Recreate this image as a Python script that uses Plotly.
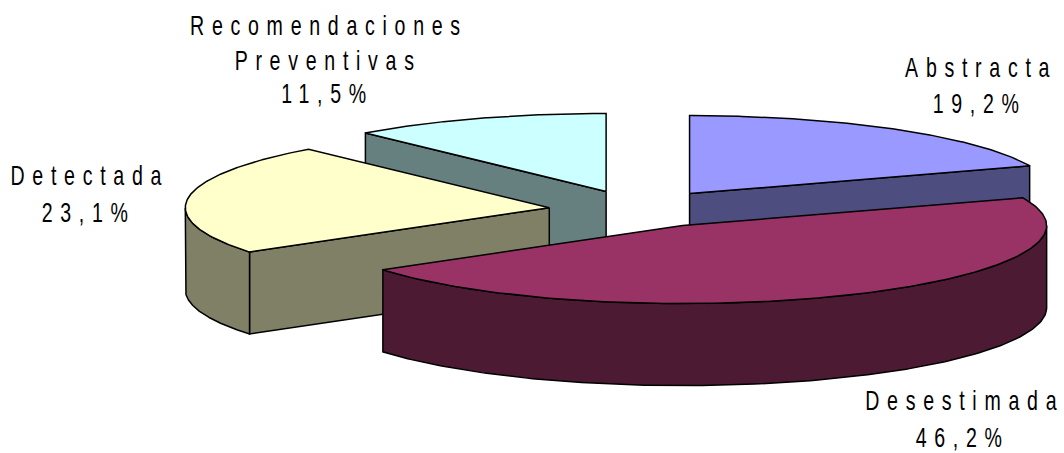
import numpy as np
import plotly.graph_objects as go

# Data
categories = ["Abstracta", "Desestimada", "Detectada", "Recomendaciones Preventivas"]
values = [19.2, 46.2, 23.1, 11.5]
top_colors = ["#9999FF", "#993366", "#FFFFCC", "#CCFFFF"]
side_colors = ["#4D4D80", "#4D1A33", "#808066", "#668080"]

# Pie geometry, in plot units
CX, CY, RX, RY, DEPTH, EXPLODE = 640.0, 208.0, 364.0, 78.0, 82.0, 0.24
NUDGE_X = [0, 2, -4, -3]
NUDGE_Y = [1, 1, 2, 1]

total = sum(values)
fractions = [v / total for v in values]
ends = np.cumsum(fractions) * 2 * np.pi
starts = np.concatenate([[0.0], ends[:-1]])

fig = go.Figure()


def poly(xs, ys, fill):
    xs = list(xs) + [xs[0]]
    ys = list(ys) + [ys[0]]
    fig.add_trace(go.Scatter(x=xs, y=ys, mode="lines", fill="toself", fillcolor=fill,
                             line=dict(color="#000000", width=1.5), hoverinfo="skip",
                             showlegend=False))


# back-to-front paint order
order = [3, 0, 2, 1]
for i in order:
    a0, a1 = starts[i], ends[i]
    mid = (a0 + a1) / 2
    ax = CX + EXPLODE * RX * np.sin(mid) + NUDGE_X[i]
    ay = CY - EXPLODE * RY * np.cos(mid) + NUDGE_Y[i]
    t = np.linspace(a0, a1, 160)
    arc_x = ax + RX * np.sin(t)
    arc_y = ay - RY * np.cos(t)

    # radial walls facing the viewer
    for ang, visible in ((a0, np.sin(a0) < -1e-6), (a1, np.sin(a1) > 1e-6)):
        if visible:
            ex, ey = ax + RX * np.sin(ang), ay - RY * np.cos(ang)
            poly([ax, ex, ex, ax], [ay, ey, ey + DEPTH, ay + DEPTH], side_colors[i])

    # outer curved wall (front half of the ellipse only)
    lo, hi = max(a0, np.pi / 2), min(a1, 3 * np.pi / 2)
    if hi > lo:
        w = np.linspace(lo, hi, 160)
        wx = ax + RX * np.sin(w)
        wy = ay - RY * np.cos(w)
        poly(list(wx) + list(wx[::-1]), list(wy) + list(wy[::-1] + DEPTH), side_colors[i])

    # top face
    poly([ax] + list(arc_x), [ay] + list(arc_y), top_colors[i])

pct = [f"{v:.1f}%".replace(".", ",") for v in values]
lines = [
    ("Abstracta", 981, 67), (pct[0], 979, 103),
    ("Desestimada", 965, 400), (pct[1], 962, 437),
    ("Detectada", 90, 175), (pct[2], 88, 212),
    ("Recomendaciones", 329, 25), ("Preventivas", 328, 60), (pct[3], 327, 93),
]
for text, x, y in lines:
    fig.add_annotation(x=x, y=y, text=text, showarrow=False, xanchor="center", yanchor="middle",
                       font=dict(family="Liberation Sans, Arial", size=28, color="#000000"))

fig.update_layout(
    width=1064, height=453, margin=dict(l=0, r=0, t=0, b=0),
    paper_bgcolor="#FFFFFF", plot_bgcolor="#FFFFFF", showlegend=False,
    xaxis=dict(range=[0, 1064], visible=False, fixedrange=True),
    yaxis=dict(range=[453, 0], visible=False, fixedrange=True),
)
post = """
document.body.style.margin='0';
document.querySelectorAll('.annotation-text').forEach(function(t){
  t.style.letterSpacing='11px';
  t.style.transformBox='fill-box';
  t.style.transformOrigin='center';
  t.style.transform='scaleX(0.7)';
});
"""
fig.write_html("out.html", post_script=post, config={"displayModeBar": False})
